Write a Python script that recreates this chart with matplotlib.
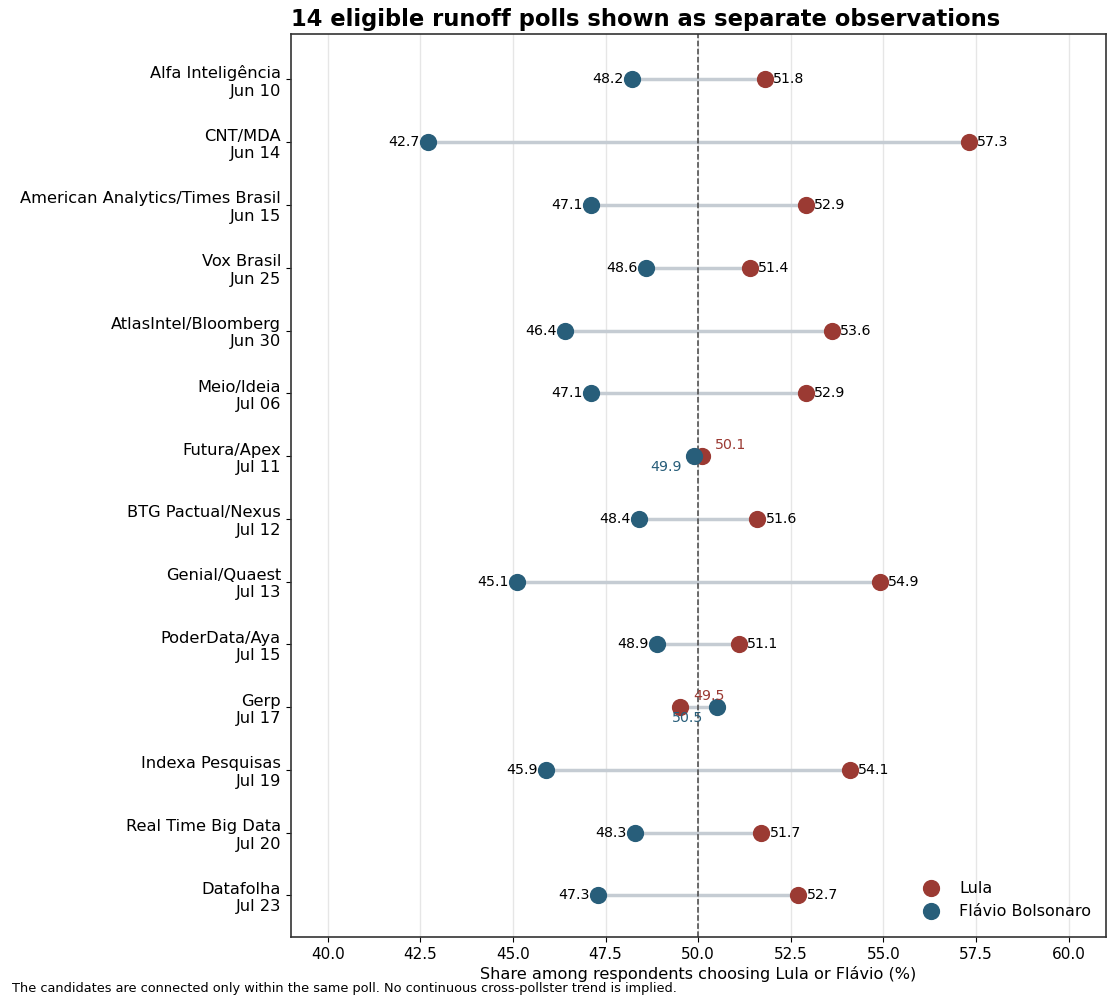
import matplotlib
matplotlib.use("Agg")
import matplotlib.pyplot as plt
import numpy as np

# poll data (two-way shares, Lula vs Flávio)
pollsters = ["Alfa Inteligência", "CNT/MDA", "American Analytics/Times Brasil", "Vox Brasil",
             "AtlasIntel/Bloomberg", "Meio/Ideia", "Futura/Apex", "BTG Pactual/Nexus",
             "Genial/Quaest", "PoderData/Aya", "Gerp", "Indexa Pesquisas",
             "Real Time Big Data", "Datafolha"]
dates = ["Jun 10", "Jun 14", "Jun 15", "Jun 25", "Jun 30", "Jul 06", "Jul 11", "Jul 12",
         "Jul 13", "Jul 15", "Jul 17", "Jul 19", "Jul 20", "Jul 23"]
lula = [51.8, 57.3, 52.9, 51.4, 53.6, 52.9, 50.1, 51.6, 54.9, 51.1, 49.5, 54.1, 51.7, 52.7]
flavio = [48.2, 42.7, 47.1, 48.6, 46.4, 47.1, 49.9, 48.4, 45.1, 48.9, 50.5, 45.9, 48.3, 47.3]

LULA_C = "#9b3a33"
FLAVIO_C = "#285e7a"

fig, ax = plt.subplots(figsize=(11.18, 10.08), dpi=100)
fig.subplots_adjust(left=0.26, right=0.989, top=0.966, bottom=0.07)

y = np.arange(len(pollsters))

for i in range(len(pollsters)):
    ax.plot([flavio[i], lula[i]], [y[i], y[i]], color="#c5ccd3", lw=2.5, zorder=1)

ax.scatter(lula, y, s=130, color=LULA_C, zorder=3, label="Lula")
ax.scatter(flavio, y, s=130, color=FLAVIO_C, zorder=3, label="Flávio Bolsonaro")

for i in range(len(pollsters)):
    if abs(lula[i] - flavio[i]) < 2:
        # close race: stagger labels above/below so they don't collide
        ax.annotate(f"{lula[i]:.1f}", (lula[i], y[i]), xytext=(9.5, 3), textcoords="offset points",
                    ha="left", va="bottom", fontsize=10.2, color=LULA_C)
        ax.annotate(f"{flavio[i]:.1f}", (flavio[i], y[i]), xytext=(-9.5, -3), textcoords="offset points",
                    ha="right", va="top", fontsize=10.2, color=FLAVIO_C)
    else:
        ax.annotate(f"{lula[i]:.1f}", (lula[i], y[i]), xytext=(6, 0), textcoords="offset points",
                    ha="left", va="center", fontsize=10.2, color="black")
        ax.annotate(f"{flavio[i]:.1f}", (flavio[i], y[i]), xytext=(-6, 0), textcoords="offset points",
                    ha="right", va="center", fontsize=10.2, color="black")

ax.axvline(50, color="#444444", ls="--", lw=1.1, zorder=2)

ax.set_yticks(y)
ax.set_yticklabels([f"{p}\n{d}" for p, d in zip(pollsters, dates)], fontsize=11.7,
                   ha="right", multialignment="right")
ax.set_ylim(len(pollsters) - 1 + 0.67, -0.72)
ax.set_xlim(39, 61)
ax.set_xticks(np.arange(40, 60.1, 2.5))
ax.set_xticklabels([f"{v:.1f}" for v in np.arange(40, 60.1, 2.5)], fontsize=11)
ax.grid(axis="x", color="#e6e6e6", lw=1)
ax.set_axisbelow(True)
for s in ax.spines.values():
    s.set_color("#333333")
    s.set_linewidth(1.2)

ax.set_xlabel("Share among respondents choosing Lula or Flávio (%)", fontsize=11.6, labelpad=3)
ax.set_title("14 eligible runoff polls shown as separate observations", fontsize=16.3,
             fontweight="bold", loc="left")
ax.legend(loc="lower right", frameon=False, fontsize=11.5, handletextpad=0.8,
          bbox_to_anchor=(1.0, 0.005))

fig.text(0.011, 0.016, "The candidates are connected only within the same poll. "
         "No continuous cross-pollster trend is implied.", fontsize=9.3)

fig.savefig("out.png", dpi=100)
